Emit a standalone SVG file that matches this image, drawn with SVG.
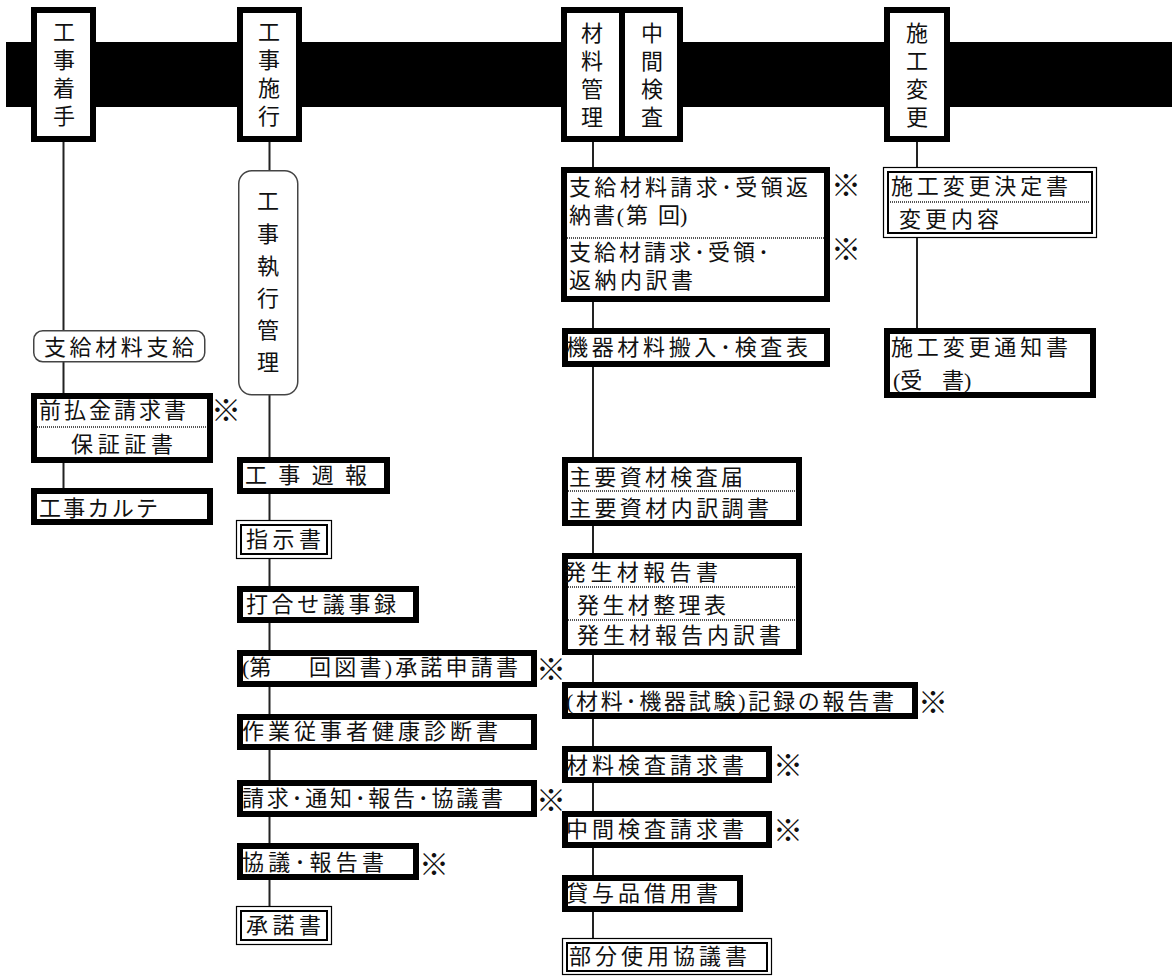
<svg xmlns="http://www.w3.org/2000/svg" width="1172" height="976" viewBox="0 0 1172 976">
<style>
.thick{fill:#fff;stroke:#000;stroke-width:6}
.round{fill:#fff;stroke:#444;stroke-width:1.5}
.dblo{fill:#fff;stroke:#000;stroke-width:1.2}
.dbli{fill:none;stroke:#000;stroke-width:2}
.sep{stroke:#555;stroke-width:2;stroke-dasharray:1 1}
.conn{stroke:#222;stroke-width:2;fill:none}
.t{font-family:"Liberation Serif","Noto Sans CJK JP",serif;font-size:22px;fill:#111;dominant-baseline:central}
.k{font-family:"Noto Sans CJK JP",sans-serif;font-size:30px;fill:#111;dominant-baseline:central}
.v{font-family:"Noto Sans CJK JP",sans-serif;font-size:22px;fill:#111;writing-mode:vertical-rl;letter-spacing:6px}
.v2{letter-spacing:10.2px}
</style>
<rect width="1172" height="976" fill="#fff"/>
<rect id="band" x="6" y="42" width="1166" height="65" fill="#000"/>

<g id="connectors">
<line class="conn" x1="63.5" y1="142" x2="63.5" y2="490"/>
<line class="conn" x1="269.5" y1="142" x2="269.5" y2="908"/>
<line class="conn" x1="593" y1="142" x2="593" y2="940"/>
<line class="conn" x1="917" y1="142" x2="917" y2="330"/>
</g>

<g id="h-chakushu">
<rect class="thick" x="34" y="10" width="59" height="129"/>
<text class="v" x="64" y="21">工事着手</text>
</g>
<g id="h-seko">
<rect class="thick" x="240" y="10" width="59" height="129"/>
<text class="v" x="269" y="21">工事施行</text>
</g>
<g id="h-zairyo-chukan">
<rect class="thick" x="564" y="10" width="116" height="129"/>
<line x1="622" y1="10" x2="622" y2="139" stroke="#000" stroke-width="6"/>
<text class="v" x="592" y="22">材料管理</text>
<text class="v" x="652" y="22">中間検査</text>
</g>
<g id="h-henko">
<rect class="thick" x="887" y="10" width="60" height="129"/>
<text class="v" x="917" y="22">施工変更</text>
</g>

<!-- column 1 -->
<g id="n-shikyu">
<rect class="round" x="33.75" y="330.75" width="171" height="31" rx="9"/>
<text class="t" x="44" y="347" textLength="150" lengthAdjust="spacing">支給材料支給</text>
</g>
<g id="n-maebarai">
<rect class="thick" x="34" y="396" width="176" height="64"/>
<line class="sep" x1="37" y1="427" x2="207" y2="427"/>
<text class="t" x="39" y="410" textLength="147" lengthAdjust="spacing">前払金請求書</text>
<text class="t" x="71" y="444" textLength="102" lengthAdjust="spacing">保証証書</text>
<text class="k" x="211" y="408">※</text>
</g>
<g id="n-karte">
<rect class="thick" x="34" y="491" width="176" height="31"/>
<text class="t" x="39" y="508" textLength="119" lengthAdjust="spacing">工事カルテ</text>
</g>

<!-- column 2 -->
<g id="n-shikkou">
<rect class="round" x="238.75" y="170.75" width="59" height="224" rx="13"/>
<text class="v v2" x="268" y="190">工事執行管理</text>
</g>
<g id="n-shuho">
<rect class="thick" x="240" y="460" width="147" height="31"/>
<text class="t" x="245" y="475" textLength="122" lengthAdjust="spacing">工事週報</text>
</g>
<g id="n-shiji">
<rect class="dblo" x="236.5" y="520.5" width="95" height="38"/>
<rect class="dbli" x="241" y="525" width="86" height="29"/>
<text class="t" x="246" y="539" textLength="75" lengthAdjust="spacing">指示書</text>
</g>
<g id="n-uchiawase">
<rect class="thick" x="240" y="589" width="176" height="31"/>
<text class="t" x="246" y="604" textLength="150" lengthAdjust="spacing">打合せ議事録</text>
</g>
<g id="n-shoudakushinsei">
<rect class="thick" x="240" y="653" width="294" height="31"/>
<text class="t" x="242" y="667">(第</text>
<text class="t" x="309" y="667" textLength="209" lengthAdjust="spacing">回図書)承諾申請書</text>
<text class="k" x="536" y="667">※</text>
</g>
<g id="n-kenko">
<rect class="thick" x="240" y="717" width="294" height="30"/>
<text class="t" x="242" y="731" textLength="256" lengthAdjust="spacing">作業従事者健康診断書</text>
</g>
<g id="n-seikyu">
<rect class="thick" x="240" y="783" width="294" height="31"/>
<text class="t" x="242" y="798" textLength="261" lengthAdjust="spacing">請求･通知･報告･協議書</text>
<text class="k" x="536" y="798">※</text>
</g>
<g id="n-kyogi">
<rect class="thick" x="240" y="846" width="176" height="31"/>
<text class="t" x="242" y="862" textLength="142" lengthAdjust="spacing">協議･報告書</text>
<text class="k" x="419" y="862">※</text>
</g>
<g id="n-shoudaku">
<rect class="dblo" x="236.5" y="906.5" width="95" height="38"/>
<rect class="dbli" x="241" y="911" width="86" height="29"/>
<text class="t" x="246" y="925" textLength="75" lengthAdjust="spacing">承諾書</text>
</g>

<!-- column 3 -->
<g id="n-shikyuseikyu">
<rect class="thick" x="564" y="170" width="263" height="129"/>
<line class="sep" x1="567" y1="238" x2="824" y2="238"/>
<text class="t" x="569" y="187" textLength="239" lengthAdjust="spacing">支給材料請求･受領返</text>
<text class="t" x="569" y="215" textLength="79" lengthAdjust="spacing">納書(第</text>
<text class="t" x="658" y="215">回)</text>
<text class="t" x="569" y="252" textLength="200" lengthAdjust="spacing">支給材請求･受領･</text>
<text class="t" x="569" y="280" textLength="124" lengthAdjust="spacing">返納内訳書</text>
<text class="k" x="831" y="183">※</text>
<text class="k" x="831" y="247">※</text>
</g>
<g id="n-kiki">
<rect class="thick" x="565" y="331" width="262" height="33"/>
<text class="t" x="566" y="347" textLength="242" lengthAdjust="spacing">機器材料搬入･検査表</text>
</g>
<g id="n-shuyo">
<rect class="thick" x="565" y="460" width="234" height="63"/>
<line class="sep" x1="568" y1="491" x2="796" y2="491"/>
<text class="t" x="569" y="477" textLength="174" lengthAdjust="spacing">主要資材検査届</text>
<text class="t" x="569" y="508" textLength="200" lengthAdjust="spacing">主要資材内訳調書</text>
</g>
<g id="n-hassei">
<rect class="thick" x="565" y="556" width="234" height="96"/>
<line class="sep" x1="568" y1="587" x2="796" y2="587"/>
<line class="sep" x1="568" y1="620" x2="796" y2="620"/>
<text class="t" x="564" y="572" textLength="154" lengthAdjust="spacing">発生材報告書</text>
<text class="t" x="577" y="605" textLength="149" lengthAdjust="spacing">発生材整理表</text>
<text class="t" x="577" y="635" textLength="204" lengthAdjust="spacing">発生材報告内訳書</text>
</g>
<g id="n-kiroku">
<rect class="thick" x="565" y="685" width="350" height="31"/>
<text class="t" x="566" y="701" textLength="328" lengthAdjust="spacing">(材料･機器試験)記録の報告書</text>
<text class="k" x="918" y="700">※</text>
</g>
<g id="n-zairyokensa">
<rect class="thick" x="565" y="749" width="204" height="31"/>
<text class="t" x="566" y="765" textLength="178" lengthAdjust="spacing">材料検査請求書</text>
<text class="k" x="773" y="763">※</text>
</g>
<g id="n-chukankensa">
<rect class="thick" x="565" y="814" width="204" height="31"/>
<text class="t" x="566" y="829" textLength="178" lengthAdjust="spacing">中間検査請求書</text>
<text class="k" x="773" y="828">※</text>
</g>
<g id="n-taiyo">
<rect class="thick" x="565" y="878" width="175" height="31"/>
<text class="t" x="566" y="893" textLength="152" lengthAdjust="spacing">貸与品借用書</text>
</g>
<g id="n-bubun">
<rect class="dblo" x="562.5" y="938.5" width="209" height="36"/>
<rect class="dbli" x="567" y="943" width="200" height="28"/>
<text class="t" x="569" y="956" textLength="178" lengthAdjust="spacing">部分使用協議書</text>
</g>

<!-- column 4 -->
<g id="n-kettei">
<rect class="dblo" x="883.5" y="167.5" width="213" height="70"/>
<rect class="dbli" x="888" y="172" width="204" height="61"/>
<line class="sep" x1="890" y1="202" x2="1090" y2="202"/>
<text class="t" x="891" y="186" textLength="177" lengthAdjust="spacing">施工変更決定書</text>
<text class="t" x="899" y="219" textLength="100" lengthAdjust="spacing">変更内容</text>
</g>
<g id="n-tsuchi">
<rect class="thick" x="887" y="331" width="206" height="64"/>
<text class="t" x="891" y="347" textLength="177" lengthAdjust="spacing">施工変更通知書</text>
<text class="t" x="893" y="380">(受</text>
<text class="t" x="942" y="380">書)</text>
</g>
</svg>
